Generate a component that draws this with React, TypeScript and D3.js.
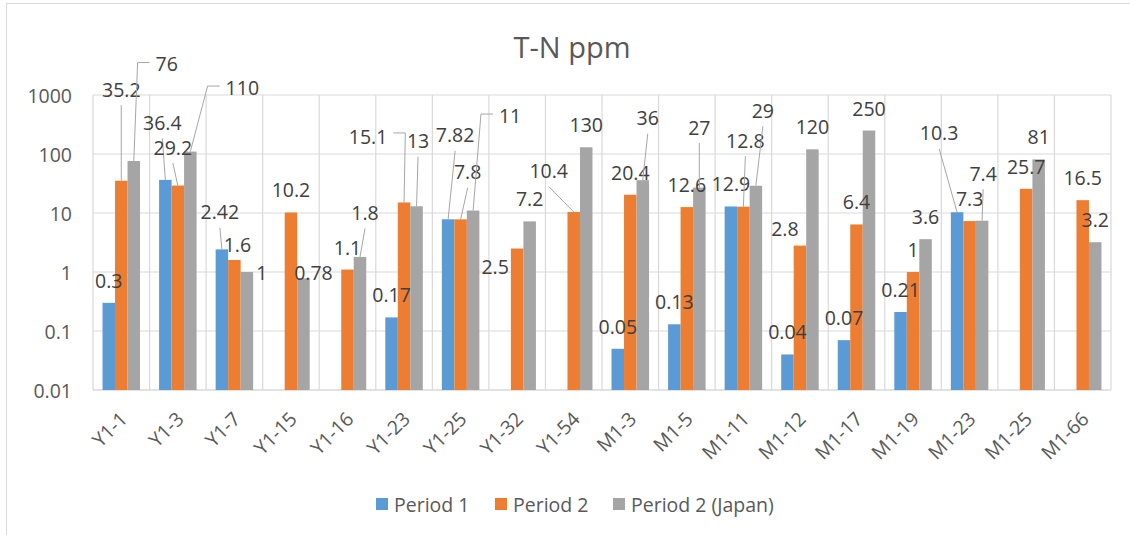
import React from 'react';
import * as d3 from 'd3';

// categories + series
const categories = [
  'Y1-1', 'Y1-3', 'Y1-7', 'Y1-15', 'Y1-16', 'Y1-23', 'Y1-25', 'Y1-32', 'Y1-54',
  'M1-3', 'M1-5', 'M1-11', 'M1-12', 'M1-17', 'M1-19', 'M1-23', 'M1-25', 'M1-66',
];
const period1: (number | null)[] = [0.3, 36.4, 2.42, null, null, 0.17, 7.82, null, null, 0.05, 0.13, 12.9, 0.04, 0.07, 0.21, 10.3, null, null];
const period2: (number | null)[] = [35.2, 29.2, 1.6, 10.2, 1.1, 15.1, 7.8, 2.5, 10.4, 20.4, 12.6, 12.8, 2.8, 6.4, 1, 7.3, 25.7, 16.5];
const period2Japan: (number | null)[] = [76, 110, 1, 0.78, 1.8, 13, 11, 7.2, 130, 36, 27, 29, 120, 250, 3.6, 7.4, 81, 3.2];
const seriesNames = ['Period 1', 'Period 2', 'Period 2 (Japan)'];
const yTicks = [0.01, 0.1, 1, 10, 100, 1000];

const colors = ['#5b9bd5', '#ed7d31', '#a5a5a5'];
const FONT = '"Open Sans", "DejaVu Sans", sans-serif';
const FS = 19.5;

// labels that Excel pushed off their default spot (series-category -> nudge, leader style)
type Nudge = { dx: number; dy: number; leader?: 'line' | 'elbowL' | 'elbowR' };
const labelNudges: Record<string, Nudge> = {
  '1-0': { dx: 0, dy: -69, leader: 'line' },
  '2-0': { dx: 33, dy: -75, leader: 'elbowL' },
  '0-1': { dx: -3, dy: -35, leader: 'line' },
  '1-1': { dx: -5, dy: -16, leader: 'line' },
  '2-1': { dx: 52, dy: -42, leader: 'elbowL' },
  '0-2': { dx: -2, dy: -15, leader: 'line' },
  '1-2': { dx: 3, dy: 7 },
  '2-2': { dx: 15, dy: 23 },
  '2-3': { dx: 10, dy: 17 },
  '2-4': { dx: 5, dy: -22, leader: 'line' },
  '1-5': { dx: -36, dy: -43, leader: 'elbowR' },
  '2-5': { dx: 1.5, dy: -43, leader: 'line' },
  '0-6': { dx: 7, dy: -62, leader: 'line' },
  '1-6': { dx: 7, dy: -25, leader: 'line' },
  '2-6': { dx: 37, dy: -73, leader: 'elbowL' },
  '1-7': { dx: -22, dy: 40 },
  '1-8': { dx: -25, dy: -19, leader: 'line' },
  '2-9': { dx: 5, dy: -40, leader: 'line' },
  '2-10': { dx: 0, dy: -38, leader: 'line' },
  '1-11': { dx: 2, dy: -44, leader: 'line' },
  '2-11': { dx: 7, dy: -53, leader: 'line' },
  '1-12': { dx: -15, dy: 5 },
  '0-15': { dx: -18, dy: -57, leader: 'line' },
  '2-15': { dx: 1, dy: -25, leader: 'line' },
};

const width = 1130;
const height = 535;
const margin = { top: 95, right: 19, bottom: 145, left: 93 };

// rough text width for Open Sans digits
const textWidth = (s: string) =>
  s.split('').reduce((w, c) => w + (c === '.' ? 0.26 * FS : 0.572 * FS), 0);

export default function App() {
  const series = [period1, period2, period2Japan];
  const innerW = width - margin.left - margin.right;
  const innerH = height - margin.top - margin.bottom;

  const x = d3.scaleBand<string>().domain(categories).range([margin.left, margin.left + innerW]);
  const step = x.step();
  const barW = 12.5;
  const gap = step - barW * 3;
  const xs = d3.scaleBand<number>().domain([0, 1, 2]).range([gap / 2, step - gap / 2]);
  const y = d3.scaleLog().domain([0.01, 1000]).range([margin.top + innerH, margin.top]);

  const bars: React.ReactNode[] = [];
  const labels: React.ReactNode[] = [];

  series.forEach((vals, s) => {
    vals.forEach((v, i) => {
      if (v == null) return;
      const bx = (x(categories[i]) ?? 0) + (xs(s) ?? 0);
      const top = y(v);
      bars.push(
        <rect key={`b${s}-${i}`} x={bx} y={top} width={xs.bandwidth()} height={y(0.01) - top} fill={colors[s]} />
      );
      const cx = bx + barW / 2;
      const nudge = labelNudges[`${s}-${i}`];
      const lx = cx + (nudge?.dx ?? 0);
      const ly = top - 22.5 + (nudge?.dy ?? 0);
      const txt = String(v);
      if (nudge?.leader) {
        let pts: [number, number][];
        const tw = textWidth(txt);
        if (nudge.leader === 'elbowL') {
          const left = lx - tw / 2;
          pts = [[cx, top], [left - 18, ly - 1], [left - 6, ly - 1]];
        } else if (nudge.leader === 'elbowR') {
          const right = lx + tw / 2;
          pts = [[cx, top], [right + 18, ly - 4], [right + 6, ly - 4]];
        } else {
          pts = [[lx, ly + 16], [cx, top]];
        }
        labels.push(
          <path key={`l${s}-${i}`} d={d3.line()(pts) ?? ''} fill="none" stroke="#a6a6a6" strokeWidth={1} />
        );
      }
      labels.push(
        <text key={`t${s}-${i}`} x={lx} y={ly} textAnchor="middle" dominantBaseline="central"
          fontSize={FS} fill="#404040">{txt}</text>
      );
    });
  });

  const legendX = [376, 495, 613];

  return (
    <svg width={width} height={height} style={{ position: 'absolute', left: 0, top: 0, fontFamily: FONT }}>
      <rect x={0} y={0} width={width} height={height} fill="#fff" />
      <rect x={6.5} y={3.5} width={width + 20} height={height + 20} fill="none" stroke="#d9d9d9" />
      <text x={572} y={46} textAnchor="middle" dominantBaseline="central" fontSize={29} fill="#595959">T-N ppm</text>

      {/* horizontal gridlines */}
      {yTicks.map(t => (
        <g key={`g${t}`}>
          <line x1={margin.left} x2={margin.left + innerW} y1={y(t)} y2={y(t)} stroke="#d9d9d9" strokeWidth={t === 0.01 ? 1.5 : 1.2} />
          <text x={72} y={y(t)} textAnchor="end" dominantBaseline="central" fontSize={FS} fill="#595959">{t}</text>
        </g>
      ))}
      {/* vertical gridlines at category boundaries */}
      {categories.concat(['end']).map((c, i) => {
        const vx = margin.left + i * step;
        return <line key={`v${c}`} x1={vx} x2={vx} y1={margin.top} y2={margin.top + innerH} stroke="#d9d9d9" strokeWidth={1.2} />;
      })}

      {bars}
      {labels}

      {categories.map(c => {
        const cx = (x(c) ?? 0) + step / 2;
        return (
          <text key={`x${c}`} transform={`translate(${cx + 2},415) rotate(-45)`} textAnchor="end"
            dominantBaseline="central" fontSize={FS} fill="#595959">{c}</text>
        );
      })}

      {seriesNames.map((n, s) => (
        <g key={n} transform={`translate(${legendX[s]},504)`}>
          <rect x={0} y={-6} width={12} height={12} fill={colors[s]} />
          <text x={18} y={0} dominantBaseline="central" fontSize={FS} fill="#595959">{n}</text>
        </g>
      ))}
    </svg>
  );
}
